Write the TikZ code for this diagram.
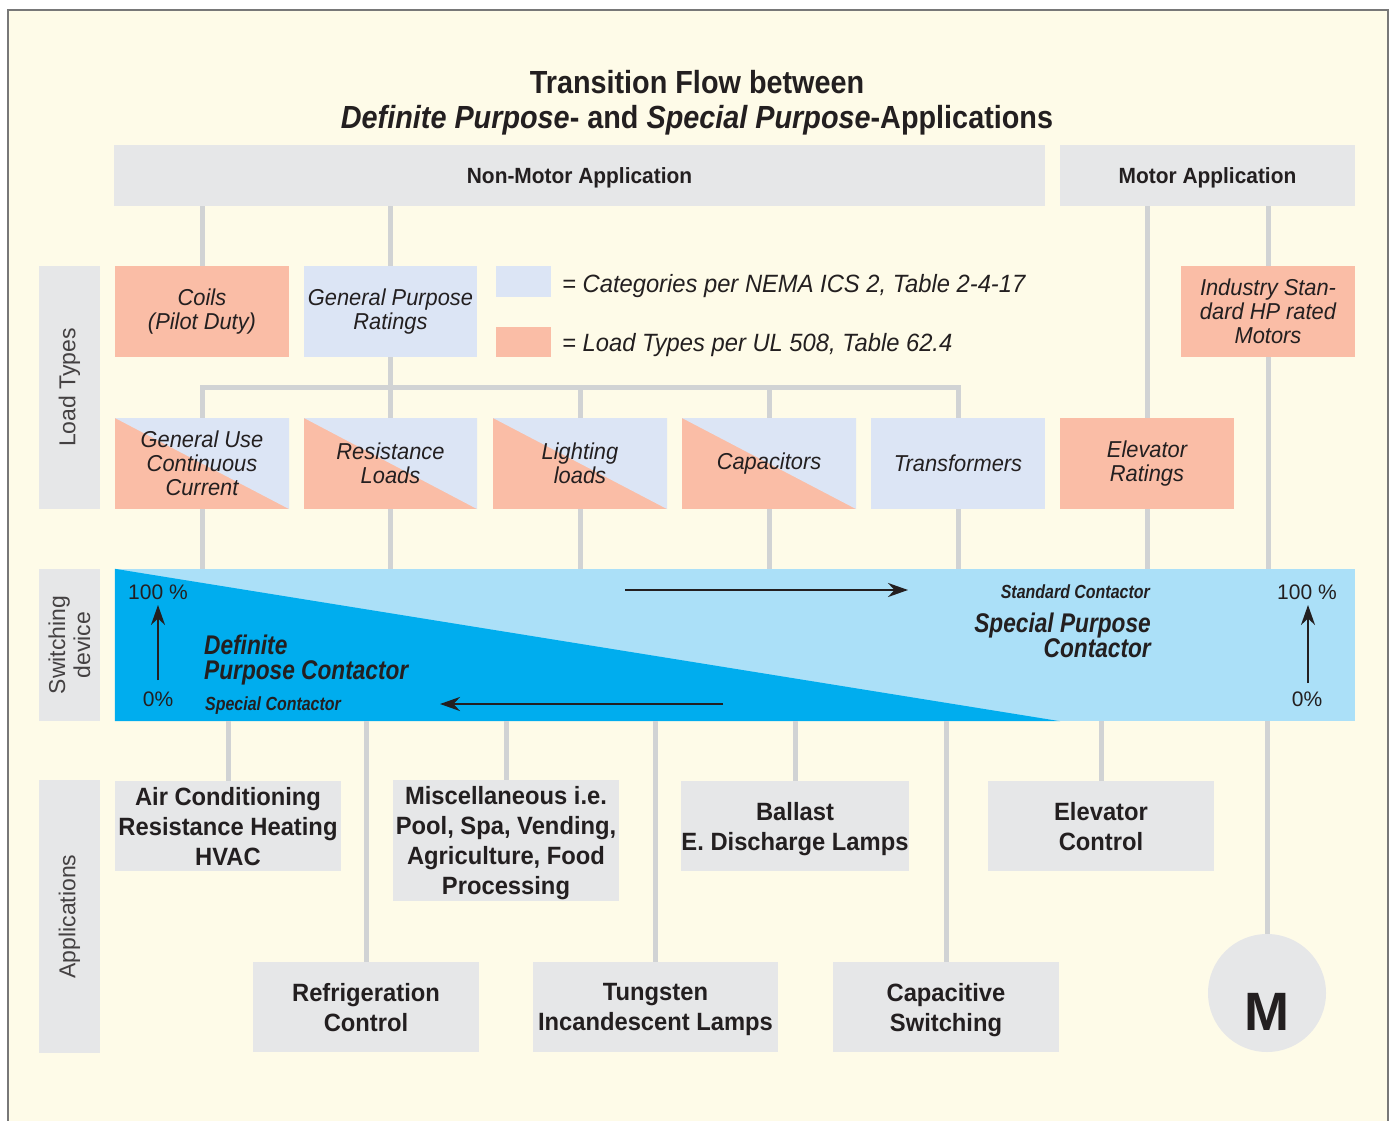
\documentclass[tikz,border=0pt]{standalone}
\usepackage{fontspec}
\setmainfont{Liberation Sans}
\newfontfamily\cond[FakeStretch=0.84]{Liberation Sans}
\newfontfamily\condw[FakeStretch=0.95]{Liberation Sans}
\newfontfamily\condt[FakeStretch=0.9]{Liberation Sans}
\usetikzlibrary{arrows.meta}
\definecolor{cream}{RGB}{254,251,232}
\definecolor{boxgray}{RGB}{230,231,232}
\definecolor{conngray}{RGB}{209,211,212}
\definecolor{salmon}{RGB}{250,189,166}
\definecolor{catblue}{RGB}{220,229,245}
\definecolor{barlight}{RGB}{171,224,248}
\definecolor{bardark}{RGB}{0,173,238}
\definecolor{ink}{RGB}{35,31,32}
\definecolor{frame}{RGB}{120,120,120}
\tikzset{
  box/.style={rectangle, inner sep=0pt, align=center, text=ink},
  graybox/.style={box, fill=boxgray},
  hdrbox/.style={graybox, minimum height=61pt, text height=15.5pt, text depth=0pt, font=\condw\bfseries\fontsize{22}{24}\selectfont},
  sidebox/.style={graybox, minimum width=61pt},
  sidetext/.style={rotate=90, align=center, text=ink!85, font=\fontsize{23}{25}\selectfont},
  salbox/.style={box, fill=salmon, minimum width=174pt, minimum height=91pt, font=\condw\itshape\fontsize{23}{24}\selectfont},
  catbox/.style={salbox, fill=catblue},
  splitbox/.style={salbox, path picture={\fill[catblue] (path picture bounding box.north west) -- (path picture bounding box.north east) -- (path picture bounding box.south east) -- cycle;}},
  appbox/.style={graybox, minimum width=226pt, minimum height=90pt, text depth=0pt, font=\condw\bfseries\fontsize{25}{30}\selectfont},
  conn/.style={draw=conngray, line width=5pt},
  pct/.style={text=ink, inner sep=0pt, font=\fontsize{21}{22}\selectfont},
  bigbi/.style={text=ink, inner sep=0pt, font=\cond\bfseries\itshape\fontsize{27}{25}\selectfont},
  smallbi/.style={text=ink, inner sep=0pt, font=\cond\bfseries\itshape\fontsize{19}{20}\selectfont},
  flowarrow/.style={draw=ink, line width=2.5pt, -{Stealth[length=20pt,width=14pt]}},
  legtext/.style={anchor=west, text=ink, inner sep=0pt, font=\condw\itshape\fontsize{25}{28}\selectfont},
  titletext/.style={text=ink, inner sep=0pt, font=\condt\bfseries\fontsize{32}{34}\selectfont}
}
\begin{document}
\begin{tikzpicture}[x=1pt,y=-1pt]
\useasboundingbox (0,0) rectangle (1390,1121);
\fill[white] (0,0) rectangle (1390,1121);
\fill[cream] (8,10) rectangle (1388,1121);
\draw[frame, line width=1.2pt] (8,1121) -- (8,10) -- (1388,10) -- (1388,1121);

% title
\node[titletext] (title1) at (697,82) {Transition Flow between};
\node[titletext] (title2) at (697,120) {\textit{Definite Purpose}- and \textit{Special Purpose}-Applications};

% headers
\node[hdrbox, minimum width=931pt] (nonmotor) at (579.5,175.5) {Non-Motor Application};
\node[hdrbox, minimum width=295pt] (motor) at (1207.5,175.5) {Motor Application};

% side labels
\node[sidebox, minimum height=243pt] (loadlbl) at (69.5,387.5) {};
\node[sidetext] (loadtxt) at (loadlbl.center) {Load Types};
\node[sidebox, minimum height=152pt] (swlbl) at (69.5,645) {};
\node[sidetext] (swtxt) at (swlbl.center) {Switching\\device};
\node[sidebox, minimum height=273pt] (applbl) at (69.5,916.5) {};
\node[sidetext] (apptxt) at (applbl.center) {Applications};

% load types row 1
\node[salbox] (coils) at (202,311.5) {Coils\\(Pilot Duty)};
\node[catbox, minimum width=173pt] (gpr) at (390.5,311.5) {General Purpose\\Ratings};
\node[salbox] (industry) at (1268,311.5) {Industry Stan-\\dard HP rated\\Motors};

% legend
\node[box, fill=catblue, minimum width=55pt, minimum height=31pt] (legblue) at (523.5,281.5) {};
\node[box, fill=salmon, minimum width=55pt, minimum height=30pt] (legsal) at (523.5,342) {};
\node[legtext] (legbluetxt) at (562,286) {= Categories per NEMA ICS 2, Table 2-4-17};
\node[legtext] (legsaltxt) at (562,345) {= Load Types per UL 508, Table 62.4};

% load types row 2
\node[splitbox] (genuse) at (202,463.5) {General Use\\Continuous\\Current};
\node[splitbox, minimum width=173pt] (resist) at (390.5,463.5) {Resistance\\Loads};
\node[splitbox] (light) at (580,463.5) {Lighting\\loads};
\node[splitbox] (capac) at (769,463.5) {Capacitors};
\node[catbox] (trans) at (958,463.5) {Transformers};
\node[salbox] (elevr) at (1147,463.5) {Elevator\\Ratings};

% switching bar
\node[box, fill=barlight, minimum width=1240pt, minimum height=152pt] (bar) at (735,645) {};
\fill[bardark] (bar.north west) -- (bar.south west -| 1060,0) -- (bar.south west) -- cycle;

\node[pct] (p100l) at (158,592) {100 \%};
\node[pct] (p0l) at (158,699) {0\%};
\coordinate (upl1) at (158,680);
\coordinate (upl2) at (158,605);
\draw[flowarrow] (upl1) -- (upl2);
\node[bigbi, anchor=west, align=left] (dpc) at (204,660) {Definite\\Purpose Contactor};
\node[smallbi, anchor=west] (specc) at (205,706) {Special Contactor};
\coordinate (arr1a) at (625,590);
\coordinate (arr1b) at (908,590);
\draw[flowarrow] (arr1a) -- (arr1b);
\coordinate (arr2a) at (723,704);
\coordinate (arr2b) at (440,704);
\draw[flowarrow] (arr2a) -- (arr2b);
\node[smallbi, anchor=east] (stdc) at (1150,592) {Standard Contactor};
\node[bigbi, anchor=east, align=right] (spc) at (1151,635) {Special Purpose\\Contactor};
\node[pct] (p100r) at (1307,592) {100 \%};
\node[pct] (p0r) at (1307,699) {0\%};
\coordinate (upr1) at (1308,683);
\coordinate (upr2) at (1308,605);
\draw[flowarrow] (upr1) -- (upr2);

% applications
\node[appbox] (aircond) at (228,826) {Air Conditioning\\Resistance Heating\\HVAC};
\node[appbox, minimum height=121pt] (misc) at (506,840.5) {Miscellaneous i.e.\\Pool, Spa, Vending,\\Agriculture, Food\\Processing};
\node[appbox] (ballast) at (795,826) {Ballast\\E. Discharge Lamps};
\node[appbox] (elevc) at (1101,826) {Elevator\\Control};
\node[appbox] (refrig) at (366,1007) {Refrigeration\\Control};
\node[appbox, minimum width=245pt] (tungsten) at (655.5,1007) {Tungsten\\Incandescent Lamps};
\node[appbox] (capsw) at (946,1007) {Capacitive\\Switching};
\node[circle, fill=boxgray, minimum size=118pt, inner sep=0pt] (motorM) at (1267,993) {};
\node[text=ink, inner sep=0pt, font=\bfseries\fontsize{54}{54}\selectfont] (mtxt) at (1267,1012) {M};

% connectors
\coordinate (busL) at (202,387);
\draw[conn] (nonmotor.south -| coils.north) -- (coils.north);
\draw[conn] (nonmotor.south -| gpr.north) -- (gpr.north);
\draw[conn] (gpr.south) -- (resist.north);
\draw[conn, line join=miter] (genuse.north) -- (genuse.north |- busL) -- (trans.north |- busL) -- (trans.north);
\draw[conn] (light.north |- busL) -- (light.north);
\draw[conn] (capac.north |- busL) -- (capac.north);
\draw[conn] (motor.south -| elevr.north) -- (elevr.north);
\draw[conn] (motor.south -| industry.north) -- (industry.north);
\draw[conn] (industry.south) -- (industry.south |- bar.north);
\foreach \n in {genuse,resist,light,capac,trans,elevr}
  \draw[conn] (\n.south) -- (\n.south |- bar.north);
\draw[conn] (bar.south -| aircond.north) -- (aircond.north);
\draw[conn] (bar.south -| misc.north) -- (misc.north);
\draw[conn] (bar.south -| ballast.north) -- (ballast.north);
\draw[conn] (bar.south -| elevc.north) -- (elevc.north);
\draw[conn] (bar.south -| refrig.north) -- (refrig.north);
\draw[conn] (bar.south -| tungsten.north) -- (tungsten.north);
\draw[conn] (bar.south -| capsw.north) -- (capsw.north);
\draw[conn] (bar.south -| motorM.north) -- (motorM.north);
\end{tikzpicture}
\end{document}
